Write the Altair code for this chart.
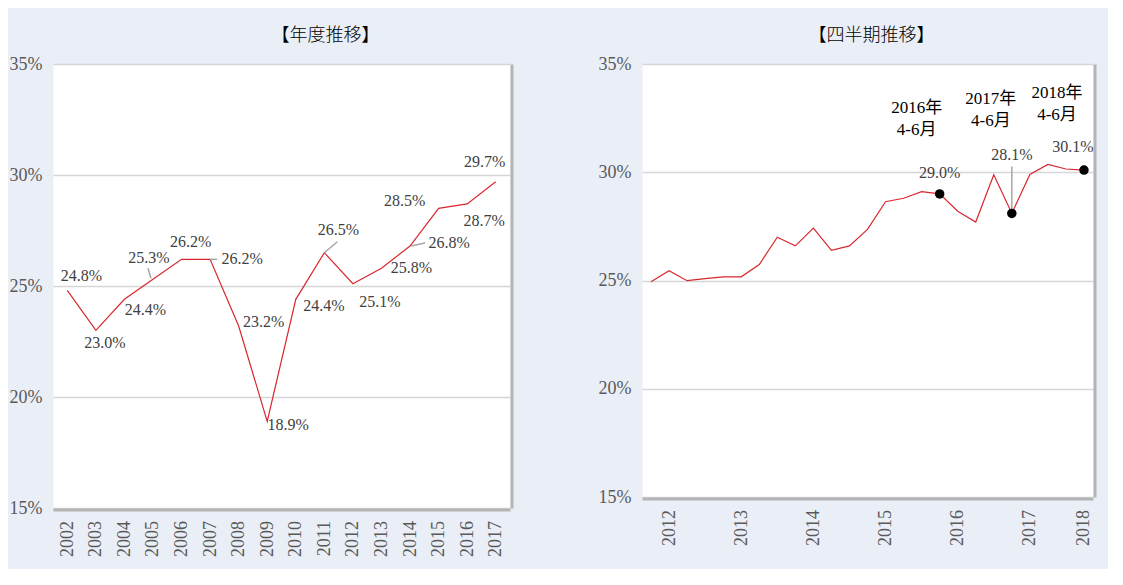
import altair as alt
import pandas as pd

# ---------------- data ----------------
years = [2002, 2003, 2004, 2005, 2006, 2007, 2008, 2009,
         2010, 2011, 2012, 2013, 2014, 2015, 2016, 2017]
annual_rate = [24.8, 23.0, 24.4, 25.3, 26.2, 26.2, 23.2, 18.9,
               24.4, 26.5, 25.1, 25.8, 26.8, 28.5, 28.7, 29.7]

quarters = [
    "2012年4-6月", "2012年7-9月", "2012年10-12月",
    "2013年1-3月", "2013年4-6月", "2013年7-9月", "2013年10-12月",
    "2014年1-3月", "2014年4-6月", "2014年7-9月", "2014年10-12月",
    "2015年1-3月", "2015年4-6月", "2015年7-9月", "2015年10-12月",
    "2016年1-3月", "2016年4-6月", "2016年7-9月", "2016年10-12月",
    "2017年1-3月", "2017年4-6月", "2017年7-9月", "2017年10-12月",
    "2018年1-3月", "2018年4-6月",
]
quarterly_rate = [24.94, 25.45, 24.99, 25.09, 25.17, 25.17, 25.74,
                  27.0, 26.6, 27.42, 26.39, 26.6, 27.36,
                  28.64, 28.8, 29.1, 29.0, 28.2, 27.7,
                  29.88, 28.1, 29.9, 30.36, 30.15, 30.1]

tick_quarters = ["2012年7-9月", "2013年7-9月", "2014年7-9月", "2015年7-9月",
                 "2016年7-9月", "2017年7-9月", "2018年4-6月"]
tick_labels = ["2012", "2013", "2014", "2015", "2016", "2017", "2018"]

highlight_quarters = ["2016年4-6月", "2017年4-6月", "2018年4-6月"]
highlight_notes = ["2016年\n4-6月", "2017年\n4-6月", "2018年\n4-6月"]

y_ticks = [15, 20, 25, 30, 35]

# label placement (pixel offsets from each point)
annual_label_offsets = [(14, -14), (9, 13), (21, 11), (-4, -21), (9, -17), (32, 0),
                        (25, -4), (21, 4), (28, 7), (14, -23), (27, 18), (30, 0),
                        (39, -3), (-34, -7), (17, 17), (-11, -20)]
annual_leaders = {2005: (-2, -1, -5, -11), 2007: (0, 0, 7, 0),
                  2011: (0, 0, 13, -11), 2014: (1, 0, 15, -3)}
quarter_label_offsets = [(0, -21), (0, -58), (-11, -23)]
quarter_note_offsets = [(-23, -86), (-21, -114), (-27, -77)]

# ---------------- styles ----------------
BG = "#eaeff7"
RED = "#d9272e"
LABEL_GRAY = "#404040"
AXIS_GRAY = "#595959"
SERIF = "'Liberation Serif', 'Noto Sans CJK JP'"
CJK = "'Noto Sans CJK JP'"
SHADOW = "#b4b4b4"

df_a = pd.DataFrame({"year": years, "rate": annual_rate})
df_a["label"] = [f"{v:.1f}%" for v in annual_rate]

df_q = pd.DataFrame({"quarter": quarters, "rate": quarterly_rate})
df_q["label"] = [f"{v:.1f}%" for v in quarterly_rate]
note_map = dict(zip(highlight_quarters, highlight_notes))
df_q["note"] = [note_map.get(q, "") for q in quarters]

y_scale = alt.Scale(domain=[15, 35], nice=False, zero=False)

y_axis_main = alt.Axis(values=y_ticks, labelExpr="datum.value + '%'", title=None,
                       grid=True, gridColor="#d6d6d6", gridWidth=1.5,
                       domain=False, ticks=False, labelFont=SERIF, labelFontSize=18,
                       labelColor=AXIS_GRAY, labelPadding=11)
y_axis_shadow = alt.Axis(orient="right", labels=False, ticks=False, grid=False,
                         title=None, domain=True, domainColor=SHADOW,
                         domainWidth=3, offset=1.5)

# ---------------- left chart ----------------
xa_scale = alt.Scale(domain=[2001.5, 2017.5], nice=False, zero=False)
xa_axis = alt.Axis(values=years, format="d", labelAngle=270, title=None,
                   grid=False, ticks=False, domain=True, domainColor=SHADOW,
                   domainWidth=3, offset=1.5, labelFont=SERIF, labelFontSize=18,
                   labelColor=AXIS_GRAY, labelPadding=11)

def xa(axis=None):
    return alt.X("year:Q", scale=xa_scale, axis=axis)

def ya(axis=None):
    return alt.Y("rate:Q", scale=y_scale, axis=axis)

base_a = alt.Chart(df_a)
a_layers = [base_a.mark_line(color=RED, strokeWidth=1.2).encode(x=xa(xa_axis), y=ya(y_axis_main)),
            base_a.mark_line(opacity=0).encode(x=xa(), y=ya(y_axis_shadow))]
for yr, (ldx, ldy) in zip(years, annual_label_offsets):
    a_layers.append(
        base_a.transform_filter(alt.datum.year == yr)
        .mark_text(dx=ldx, dy=ldy, font=SERIF, fontSize=16, color=LABEL_GRAY)
        .encode(x=xa(), y=ya(), text="label:N"))
for yr, (x0, y0, x1, y1) in annual_leaders.items():
    a_layers.append(
        base_a.transform_filter(alt.datum.year == yr)
        .mark_rule(color="#a6a6a6", strokeWidth=1.5, xOffset=x0, yOffset=y0,
                   x2Offset=x1, y2Offset=y1)
        .encode(x=xa(), y=ya(), x2="year:Q", y2="rate:Q"))

left = alt.layer(*a_layers).resolve_axis(x="independent", y="independent").properties(
    width=457, height=444,
    title=alt.Title("【年度推移】", font=CJK, fontSize=18, fontWeight=300,
                    color="#000000", frame="group", anchor="middle", dx=44, offset=10))

# ---------------- right chart ----------------
tick_map = "{" + ", ".join(f"'{q}': '{t}'" for q, t in zip(tick_quarters, tick_labels)) + "}"
xq_scale = alt.Scale(type="point", domain=quarters, padding=0.5)
xq_axis = alt.Axis(values=tick_quarters, labelExpr=f"{tick_map}[datum.value]",
                   labelAngle=270, title=None, grid=False, ticks=False, domain=True,
                   domainColor=SHADOW, domainWidth=3, offset=1.5, labelFont=SERIF,
                   labelFontSize=18, labelColor=AXIS_GRAY, labelPadding=11)

def xq(axis=None):
    return alt.X("quarter:N", scale=xq_scale, axis=axis, sort=quarters)

def yq(axis=None):
    return alt.Y("rate:Q", scale=y_scale, axis=axis)

base_q = alt.Chart(df_q)
q_layers = [base_q.mark_line(color=RED, strokeWidth=1.2).encode(x=xq(xq_axis), y=yq(y_axis_main)),
            base_q.mark_line(opacity=0).encode(x=xq(), y=yq(y_axis_shadow))]
# leader for 2017 4-6
q_layers.append(
    base_q.transform_filter(alt.datum.quarter == highlight_quarters[1])
    .mark_rule(color="#a6a6a6", strokeWidth=1.5, yOffset=-2, y2Offset=-47)
    .encode(x=xq(), y=yq(), x2="quarter:N", y2="rate:Q"))
q_layers.append(
    base_q.transform_filter(alt.FieldOneOfPredicate(field="quarter", oneOf=highlight_quarters))
    .mark_point(filled=True, color="#000000", size=90, opacity=1)
    .encode(x=xq(), y=yq()))
for q, (ldx, ldy), (ndx, ndy) in zip(highlight_quarters, quarter_label_offsets,
                                     quarter_note_offsets):
    sub = base_q.transform_filter(alt.datum.quarter == q)
    q_layers.append(sub.mark_text(dx=ldx, dy=ldy, font=SERIF, fontSize=16, color=LABEL_GRAY)
                    .encode(x=xq(), y=yq(), text="label:N"))
    q_layers.append(sub.mark_text(dx=ndx, dy=ndy, font=SERIF, fontSize=17, color="#000000",
                                  lineBreak="\n", lineHeight=22)
                    .encode(x=xq(), y=yq(), text="note:N"))

right = alt.layer(*q_layers).resolve_axis(x="independent", y="independent").properties(
    width=451, height=433,
    title=alt.Title("【四半期推移】", font=CJK, fontSize=18, fontWeight=300,
                    color="#000000", frame="group", anchor="middle", dx=4, offset=10))

chart = alt.hconcat(left, right, spacing=85).properties(
    background=BG, padding={"left": 0, "top": 18, "right": 13, "bottom": 12}
).configure_view(stroke="transparent", fill="white")

chart.save("out.html", embed_options={"renderer": "svg", "actions": False})
